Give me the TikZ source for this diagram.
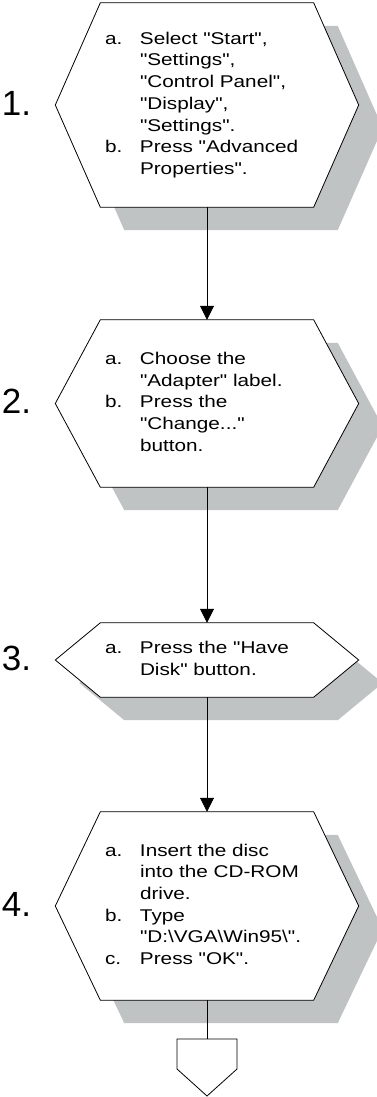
\documentclass[tikz,border=0pt]{standalone}
\usepackage{fontspec}
\setmainfont{Liberation Sans}
\newfontfamily\boxfont[FakeStretch=1.22]{Liberation Sans}
\usetikzlibrary{positioning,arrows.meta,calc,backgrounds}
\definecolor{shadowgray}{RGB}{192,195,196}

\begin{document}
\begin{tikzpicture}[
  x=1pt, y=1pt,
  font=\boxfont\fontsize{17}{21.7}\selectfont,
  stepbox/.style={inner xsep=4.5pt, inner ysep=0pt, text width=204pt, align=left},
  num/.style={font=\rmfamily\fontsize{35}{35}\selectfont, inner sep=0pt},
  hexline/.style={draw, line width=0.8pt, fill=white},
  hexshadow/.style={fill=shadowgray},
  arr/.style={-{Triangle[length=14pt, width=14pt]}, line width=0.8pt},
  link/.style={line width=0.8pt},
]
\useasboundingbox (0,0) rectangle (376,-1097);
\node[stepbox, minimum height=204pt] (s1) at (207,-105)
  {\begin{tabular}{@{}p{35pt}@{}l@{}}
   a. & Select "Start",\\
      & "Settings",\\
      & "Control Panel",\\
      & "Display",\\
      & "Settings".\\
   b. & Press "Advanced\\
      & Properties".
   \end{tabular}};
\node[stepbox, minimum height=167pt] (s2) at (207,-403.5)
  {\begin{tabular}{@{}p{35pt}@{}l@{}}
   a. & Choose the\\
      & "Adapter" label.\\
   b. & Press the\\
      & "Change..."\\
      & button.
   \end{tabular}};
\node[stepbox, minimum height=74pt] (s3) at (207,-660)
  {\begin{tabular}{@{}p{35pt}@{}l@{}}
   a. & Press the "Have\\
      & Disk" button.
   \end{tabular}};
\node[stepbox, minimum height=188pt] (s4) at (207,-906)
  {\begin{tabular}{@{}p{35pt}@{}l@{}}
   a. & Insert the disc\\
      & into the CD-ROM\\
      & drive.\\
   b. & Type\\
      & "D:\textbackslash{}VGA\textbackslash{}Win95\textbackslash{}".\\
   c. & Press "OK".
   \end{tabular}};
\node[num, left=69pt of s1, yshift=2pt] (n1) {1.};
\node[num, left=69pt of s2, yshift=2pt] (n2) {2.};
\node[num, left=69pt of s3, yshift=2pt] (n3) {3.};
\node[num, left=69pt of s4, yshift=2pt] (n4) {4.};
\coordinate (e) at (207,-1039);

% hexagons and their shadows behind the text
\begin{pgfonlayer}{background}
\foreach \s in {s1,s2,s3,s4} {
  \fill[hexshadow] ($(\s.north west)+(24,-23)$) -- ($(\s.north east)+(24,-23)$)
    -- ($(\s.east)+(69,-23)$) -- ($(\s.south east)+(24,-23)$)
    -- ($(\s.south west)+(24,-23)$) -- ($(\s.west)+(-21,-23)$) -- cycle;
  \draw[hexline] (\s.north west) -- (\s.north east) -- ($(\s.east)+(45,0)$)
    -- (\s.south east) -- (\s.south west) -- ($(\s.west)+(-45,0)$) -- cycle;
}
\end{pgfonlayer}

\draw[arr] (s1.south) -- (s2.north);
\draw[arr] (s2.south) -- (s3.north);
\draw[arr] (s3.south) -- (s4.north);
\draw[link] (s4.south) -- (e);
\draw[hexline] ($(e)+(-30,0)$) -- ($(e)+(30,0)$) -- ($(e)+(30,-30)$)
  -- ($(e)+(0,-57)$) -- ($(e)+(-30,-30)$) -- cycle;
\end{tikzpicture}
\end{document}
